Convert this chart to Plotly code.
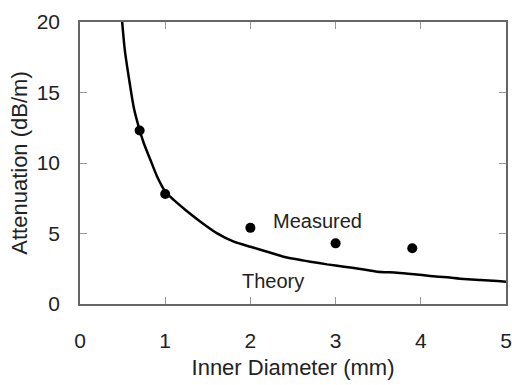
import plotly.graph_objects as go

# Measured data
meas_x = [0.70, 1.0, 2.0, 3.0, 3.9]
meas_y = [12.3, 7.8, 5.4, 4.3, 3.95]

# Theory curve
theory_x = [0.495, 0.526, 0.585, 0.632, 0.70, 0.749, 0.827, 0.906, 1.003, 1.10, 1.238,
            1.414, 1.61, 1.805, 2.0, 2.197, 2.39, 2.588, 2.705, 2.90, 3.10, 3.29, 3.49,
            3.72, 3.92, 4.11, 4.31, 4.50, 4.70, 4.90, 5.0]
theory_y = [20.0, 18.0, 15.6, 13.9, 12.34, 11.40, 10.21, 9.03, 7.96, 7.38, 6.67,
            5.84, 5.01, 4.42, 4.06, 3.71, 3.35, 3.12, 3.0, 2.81, 2.65, 2.48, 2.29,
            2.22, 2.11, 1.99, 1.89, 1.77, 1.70, 1.63, 1.58]

x_ticks = [0, 1, 2, 3, 4, 5]
y_ticks = [0, 5, 10, 15, 20]

FONT = "Liberation Sans, Arial, sans-serif"
TXT = "#222222"

fig = go.Figure()
fig.add_trace(go.Scatter(x=theory_x, y=theory_y, mode="lines",
                         line=dict(color="black", width=2.5, shape="spline", smoothing=0.6),
                         showlegend=False))
fig.add_trace(go.Scatter(x=meas_x, y=meas_y, mode="markers",
                         marker=dict(color="black", size=10), showlegend=False))

fig.add_annotation(x=2.79, y=5.9, text="Measured", showarrow=False,
                   font=dict(family=FONT, size=20, color=TXT))
fig.add_annotation(x=2.27, y=1.65, text="Theory", showarrow=False,
                   font=dict(family=FONT, size=20, color=TXT))

axis_common = dict(
    showgrid=False, zeroline=False, showline=True, linecolor="#666666", linewidth=1.5,
    mirror="ticks", ticks="inside", ticklen=7, tickcolor="#999999", tickwidth=1,
    tickfont=dict(family=FONT, size=21, color=TXT),
)

fig.update_layout(
    width=512, height=385,
    margin=dict(l=80, r=6, t=22, b=81, autoexpand=False),
    paper_bgcolor="white", plot_bgcolor="white",
    xaxis=dict(range=[0, 5], tickvals=x_ticks, ticklabelstandoff=17,
               title=dict(text="Inner Diameter (mm)", standoff=9,
                          font=dict(family=FONT, size=22, color=TXT)),
               **axis_common),
    yaxis=dict(range=[0, 20], tickvals=y_ticks, ticklabelstandoff=14,
               title=dict(text="Attenuation (dB/m)", standoff=3,
                          font=dict(family=FONT, size=22, color=TXT)),
               **axis_common),
)

fig.write_html("out.html")
